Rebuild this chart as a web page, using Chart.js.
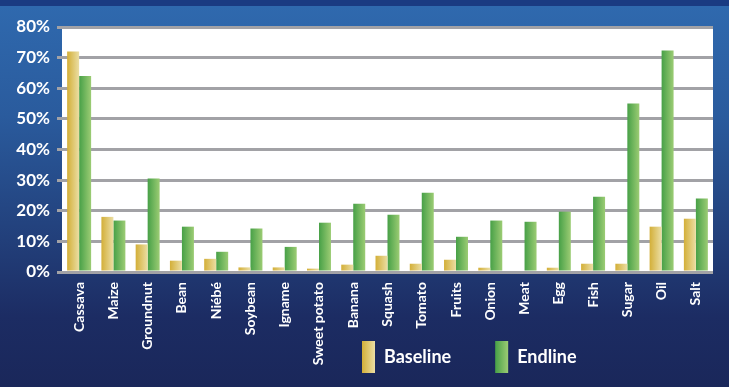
<!DOCTYPE html>
<html>
<head>
<meta charset="utf-8">
<script src="https://cdn.jsdelivr.net/npm/chart.js@4"></script>
<style>
  html, body { margin: 0; padding: 0; }
  body {
    width: 729px; height: 387px; overflow: hidden;
    background: linear-gradient(to bottom, #1a3b82 0px, #1a3b82 6px, #2f69ae 6px, #2a5b9d 30%, #223f7a 62%, #1c2c63 82%, #1a275a 100%);
  }
  #wrap { position: relative; width: 729px; height: 387px; }
</style>
</head>
<body>
<div id="wrap"><canvas id="chart"></canvas></div>
<script>
// Food items consumed, share of households at baseline and endline
const categories = ['Cassava', 'Maize', 'Groundnut', 'Bean', 'Niébé', 'Soybean', 'Igname', 'Sweet potato', 'Banana', 'Squash', 'Tomato', 'Fruits', 'Onion', 'Meat', 'Egg', 'Fish', 'Sugar', 'Oil', 'Salt'];
const baseline = [72, 18, 9, 3.7, 4.3, 1.5, 1.5, 1.1, 2.4, 5.3, 2.7, 4, 1.4, 0, 1.4, 2.7, 2.7, 14.8, 17.4];
const endline = [64, 16.8, 30.5, 14.8, 6.6, 14.2, 8.2, 16.1, 22.3, 18.7, 25.9, 11.5, 16.8, 16.4, 19.7, 24.6, 55, 72.3, 24];
const seriesNames = ['Baseline', 'Endline'];
const yTickLabels = ['0%', '10%', '20%', '30%', '40%', '50%', '60%', '70%', '80%'];

const FONT = 'Lato, "DejaVu Sans", sans-serif';
const CAT_PCT = 0.7;
const BAR_PCT = 1.0;
const gradientStops = [
  ['#d3af38', '#ebdea4'],   // baseline: gold to pale
  ['#47a047', '#9ccc74']    // endline: green to light green
];

function horizontalGradient(ctx2d, left, width, stops) {
  const g = ctx2d.createLinearGradient(left, 0, left + width, 0);
  g.addColorStop(0, stops[0]);
  g.addColorStop(1, stops[1]);
  return g;
}

// Each bar gets its own left-to-right gradient, placed from the category scale
function barFill(datasetIndex) {
  return (context) => {
    const chart = context.chart;
    const xs = chart.scales && chart.scales.x;
    if (context.type !== 'data' || !xs || !xs.width) return gradientStops[datasetIndex][0];
    const nCats = categories.length;
    const catWidth = xs.width / nCats;
    const groupWidth = catWidth * CAT_PCT;
    const barWidth = groupWidth * BAR_PCT / 2;
    const center = xs.getPixelForValue(context.dataIndex);
    const left = center - groupWidth / 2 + datasetIndex * barWidth;
    return horizontalGradient(chart.ctx, left, barWidth, gradientStops[datasetIndex]);
  };
}

const plotBackground = {
  id: 'plotBackground',
  beforeDraw(chart) {
    const { ctx, chartArea: a } = chart;
    ctx.save();
    ctx.fillStyle = '#ffffff';
    ctx.fillRect(a.left, a.top, a.right - a.left, a.bottom - a.top);
    ctx.restore();
  }
};

// Legend sits under the right half of the plot, with gradient swatches;
// the category labels are allowed to run down past the legend band
const LEGEND_START_X = 362;
const legendPlacement = {
  id: 'legendPlacement',
  afterLayout(chart) {
    const xs = chart.scales.x;
    if (xs) xs.bottom = chart.height;
    const lg = chart.legend;
    if (!lg || !lg.lineWidths) return;
    const pad = lg.options.labels.padding;
    const start = (lg.left + pad + lg.right - lg.lineWidths[0]) / 2;
    const d = LEGEND_START_X - start;
    lg.left += d;
    lg.right += d;
  },
  beforeDraw(chart) {
    const lg = chart.legend;
    if (!lg || !lg.legendItems) return;
    const pad = lg.options.labels.padding;
    const boxW = lg.options.labels.boxWidth;
    let x = (lg.left + pad + lg.right - lg.lineWidths[0]) / 2;
    lg.legendItems.forEach((item, i) => {
      item.fillStyle = horizontalGradient(chart.ctx, x, boxW, gradientStops[i]);
      item.strokeStyle = 'rgba(0,0,0,0)';
      item.lineWidth = 0;
      x += lg.legendHitBoxes[i].width + pad;
    });
  }
};

new Chart(document.getElementById('chart'), {
  type: 'bar',
  data: {
    labels: categories,
    datasets: [
      { label: seriesNames[0], data: baseline, backgroundColor: barFill(0), borderWidth: 0 },
      { label: seriesNames[1], data: endline, backgroundColor: barFill(1), borderWidth: 0 }
    ]
  },
  options: {
    responsive: true,
    maintainAspectRatio: false,
    devicePixelRatio: 1,
    animation: false,
    layout: { padding: { left: 0, right: 16, top: 27, bottom: 4 } },
    datasets: { bar: { categoryPercentage: CAT_PCT, barPercentage: BAR_PCT } },
    plugins: {
      tooltip: { enabled: false },
      legend: {
        position: 'bottom',
        labels: {
          color: '#ffffff',
          font: { family: FONT, size: 18, weight: 'bold' },
          boxWidth: 13,
          boxHeight: 32,
          padding: 44
        }
      }
    },
    scales: {
      x: {
        grid: { display: false, drawTicks: false },
        border: { display: false },
        ticks: {
          color: '#ffffff',
          font: { family: FONT, size: 14, weight: 'bold' },
          minRotation: 90,
          maxRotation: 90,
          autoSkip: false,
          padding: 10
        },
        afterFit(scale) { scale.height = 25; }
      },
      y: {
        min: 0,
        max: 80,
        border: { display: false },
        grid: { color: '#a2a2a6', lineWidth: 3, tickLength: 5, drawTicks: true },
        ticks: {
          stepSize: 10,
          color: '#ffffff',
          font: { family: FONT, size: 17, weight: 'bold' },
          padding: 7,
          callback: (v) => yTickLabels[Math.round(v / 10)]
        },
        afterFit(scale) { scale.width = 62; }
      }
    }
  },
  plugins: [plotBackground, legendPlacement]
});
</script>
</body>
</html>
